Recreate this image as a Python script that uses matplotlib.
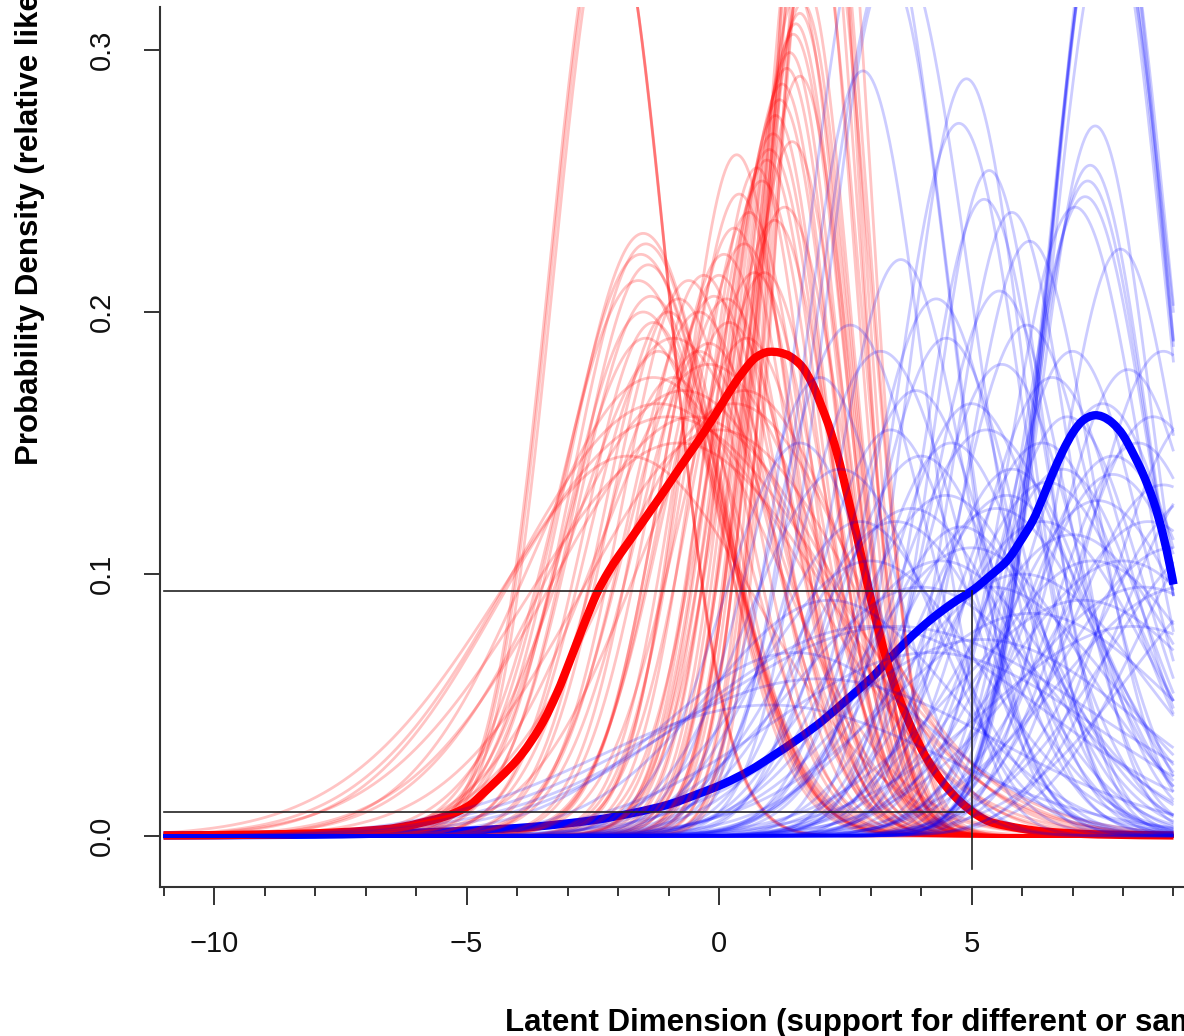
import numpy as np
import matplotlib.pyplot as plt
from matplotlib.path import Path
from matplotlib.patches import PathPatch

plt.rcParams.update({'font.family': 'Liberation Sans', 'font.size': 21})

# posterior density draws, group 1 (centre, peak height, spread)
red_mu = [-2.20, -2.15, -2.18,
          -1.50, -1.45, -1.55, -1.40, -1.60, -1.35, -1.50, -1.30, -1.45, -1.20,
          -0.80, -0.60, -0.40, -0.30, -0.10, 0.00, 0.10, 0.20, 0.30, 0.40, 0.50, 0.60, 0.70, -0.20,
          0.85, 0.95, 1.00, 1.07, 1.12, 1.20, 1.25, 1.34, 1.40, 1.47, 1.52, 1.60, 1.65, 1.55, 1.70,
          1.75, 1.85, 1.95, 2.05, 1.90, 2.10, 1.80, 2.00,
          -1.00, -0.80, -1.20, -0.50, -0.70, 0.00, -1.30, 0.30, -0.20, 0.50, -0.90, -1.80,
          -0.90, -0.40, 0.15, 0.55, 0.90, 1.10, 1.30, 0.75, 1.45, 0.35, -1.00, 1.60]
red_peak = [0.360, 0.355, 0.358,
            0.230, 0.226, 0.222, 0.218, 0.212, 0.206, 0.200, 0.196, 0.190, 0.185,
            0.205, 0.212, 0.200, 0.214, 0.206, 0.214, 0.222, 0.196, 0.232, 0.245, 0.226, 0.238, 0.215, 0.188,
            0.250, 0.258, 0.262, 0.268, 0.275, 0.281, 0.287, 0.293, 0.299, 0.306, 0.310, 0.314, 0.318, 0.322, 0.326,
            0.380, 0.400, 0.420, 0.390, 0.450, 0.440, 0.360, 0.370,
            0.160, 0.150, 0.165, 0.160, 0.170, 0.155, 0.175, 0.165, 0.180, 0.170, 0.190, 0.145,
            0.175, 0.185, 0.205, 0.190, 0.215, 0.235, 0.240, 0.255, 0.265, 0.260, 0.200, 0.290]
red_sd = [1.15, 1.12, 1.14,
          1.50, 1.45, 1.55, 1.40, 1.60, 1.45, 1.50, 1.35, 1.60, 1.40,
          1.35, 1.30, 1.40, 1.25, 1.30, 1.20, 1.25, 1.35, 1.15, 1.10, 1.20, 1.10, 1.25, 1.45,
          1.10, 1.05, 1.10, 1.05, 1.00, 1.05, 1.00, 1.00, 0.98, 1.00, 0.95, 0.97, 0.95, 0.93, 0.92,
          0.90, 0.88, 0.85, 0.90, 0.80, 0.85, 0.95, 0.95,
          3.20, 3.00, 2.90, 2.80, 2.60, 2.70, 2.40, 2.40, 2.20, 2.10, 2.00, 2.60,
          1.50, 1.45, 1.30, 1.40, 1.20, 1.15, 1.20, 1.00, 1.05, 1.05, 1.30, 1.00]

# posterior density draws, group 2
blue_mu = [7.65, 7.70, 7.75, 7.70, 7.68, 7.72, 3.10, 3.50, 3.35,
           2.85, 4.90, 4.75, 7.45, 7.35, 7.30, 7.25, 7.05, 5.35, 5.25, 5.80, 6.15, 3.60, 7.95, 5.55, 4.30,
           2.00, 2.60, 3.20, 3.90, 4.50, 5.00, 5.60, 6.10, 6.60, 7.00, 7.60, 8.10, 8.60, 6.40, 4.00, 1.60,
           2.40, 7.80, 5.30, 8.80,
           3.0, 3.5, 4.0, 4.5, 5.0, 5.5, 6.0, 6.5, 7.0, 7.5, 8.0, 8.5, 9.0, 9.5, 10.0, 6.2, 7.2, 8.2,
           5.2, 4.2, 3.0, 9.2, 10.5, 6.8, 7.8, 8.8, 5.8, 4.8, 2.2, 1.5,
           2.0, 3.5, 1.0,
           3.8, 4.4, 5.4, 6.4, 7.4, 8.4, 9.8, 10.2, 2.8, 6.9, 8.3, 5.7, 4.6, 3.4, 9.4]
blue_peak = [0.360, 0.370, 0.350, 0.380, 0.365, 0.372, 0.360, 0.340, 0.330,
             0.292, 0.289, 0.272, 0.271, 0.256, 0.250, 0.244, 0.240, 0.254, 0.243, 0.238, 0.227, 0.220,
             0.224, 0.208, 0.205,
             0.175, 0.195, 0.185, 0.170, 0.190, 0.165, 0.180, 0.195, 0.175, 0.185, 0.165, 0.178, 0.160,
             0.150, 0.145, 0.150, 0.140, 0.145, 0.155, 0.185,
             0.105, 0.120, 0.095, 0.130, 0.110, 0.125, 0.100, 0.135, 0.115, 0.128, 0.105, 0.120, 0.110,
             0.130, 0.115, 0.085, 0.090, 0.080, 0.075, 0.070, 0.080, 0.095, 0.100, 0.140, 0.138, 0.134,
             0.140, 0.118, 0.090, 0.070,
             0.060, 0.080, 0.050,
             0.125, 0.105, 0.095, 0.120, 0.105, 0.095, 0.140, 0.125, 0.120, 0.160, 0.150, 0.130, 0.150,
             0.155, 0.160]
blue_sd = [1.15, 1.12, 1.18, 1.10, 1.14, 1.16, 1.40, 1.50, 1.25,
           1.20, 1.15, 1.25, 1.10, 1.15, 1.20, 1.25, 1.30, 1.10, 1.20, 1.15, 1.25, 1.30, 1.20, 1.35, 1.40,
           1.40, 1.50, 1.60, 1.50, 1.45, 1.60, 1.50, 1.40, 1.50, 1.40, 1.55, 1.45, 1.60, 1.70, 1.70, 1.50,
           1.80, 1.70, 1.80, 1.50,
           2.2, 2.0, 2.5, 1.9, 2.2, 2.0, 2.4, 1.8, 2.1, 1.9, 2.3, 2.0, 2.2, 2.0, 2.3, 2.8, 2.6, 2.9,
           3.0, 3.2, 3.4, 2.5, 2.4, 1.6, 1.7, 1.8, 1.6, 1.7, 2.4, 2.6,
           3.5, 3.8, 3.4,
           2.0, 2.2, 2.4, 2.0, 2.2, 2.5, 1.8, 1.9, 1.8, 1.5, 1.6, 1.8, 1.6, 1.5, 1.6]

# pooled densities
red_mean_x = [-11.0, -10.0, -9.0, -8.0, -7.0, -6.3, -5.5, -5.0, -4.67, -4.0, -3.54, -3.21, -2.95,
              -2.69, -2.42, -2.2, -2.0, -1.76, -1.4, -1.11, -0.78, -0.44, -0.1, 0.22, 0.45, 0.67,
              0.85, 1.0, 1.2, 1.41, 1.65, 1.86, 2.05, 2.2, 2.38, 2.53, 2.7, 2.85, 3.05, 3.32, 3.58,
              3.84, 4.1, 4.37, 4.65, 4.9, 5.15, 5.43, 6.0, 6.5, 7.5, 9.0]
red_mean_y = [0.0002, 0.0003, 0.0006, 0.0010, 0.0020, 0.0034, 0.0070, 0.0110, 0.0163, 0.0290,
              0.0417, 0.0545, 0.0670, 0.0800, 0.0926, 0.1005, 0.1065, 0.1130, 0.1230, 0.1310,
              0.1405, 0.1500, 0.1600, 0.1700, 0.1765, 0.1817, 0.1840, 0.1848, 0.1845, 0.1830,
              0.1790, 0.1720, 0.1630, 0.1550, 0.1430, 0.1310, 0.1170, 0.1040, 0.0870, 0.0670,
              0.0520, 0.0400, 0.0300, 0.0220, 0.0155, 0.0110, 0.0075, 0.0050, 0.0028, 0.0016,
              0.0006, 0.0002]
blue_mean_x = [-11.0, -8.0, -6.3, -5.0, -3.68, -2.5, -1.7, -1.0, -0.38, 0.1, 0.61, 1.1, 1.6, 2.05,
               2.53, 3.0, 3.32, 3.75, 4.18, 4.6, 5.03, 5.35, 5.7, 5.95, 6.22, 6.42, 6.61, 6.81, 7.01,
               7.2, 7.41, 7.6, 7.8, 8.0, 8.2, 8.4, 8.6, 8.78, 8.93, 9.0]
blue_mean_y = [0.0002, 0.0005, 0.0011, 0.0020, 0.0035, 0.0060, 0.0088, 0.0120, 0.0163, 0.0200,
               0.0250, 0.0310, 0.0375, 0.0440, 0.0520, 0.0600, 0.0665, 0.0750, 0.0824, 0.0885,
               0.0939, 0.0990, 0.1050, 0.1120, 0.1206, 0.1295, 0.1385, 0.1470, 0.1540, 0.1585,
               0.1605, 0.1600, 0.1575, 0.1530, 0.1460, 0.1380, 0.1280, 0.1160, 0.1030, 0.0960]

# reference readings at x = 5
cut_x = 5.0
cut_blue = 0.0935
cut_red = 0.0092


def bump(x, mu, peak, sd):
    return peak * np.exp(-0.5 * ((x - mu) / sd) ** 2)


def smooth_path(xv, yv):
    # Catmull-Rom through the points, as cubic Bezier segments
    p = np.column_stack([xv, yv])
    verts = [p[0]]
    codes = [Path.MOVETO]
    for i in range(len(p) - 1):
        p0 = p[i - 1] if i > 0 else p[i]
        p3 = p[i + 2] if i + 2 < len(p) else p[i + 1]
        verts += [p[i] + (p[i + 1] - p0) / 6, p[i + 1] - (p3 - p[i]) / 6, p[i + 1]]
        codes += [Path.CURVE4] * 3
    return Path(verts, codes)


fig = plt.figure(figsize=(11.84, 10.36), dpi=100)
ax = fig.add_axes([160 / 1184, 149 / 1036, 1024 / 1184, 880 / 1036])

xs = np.linspace(-11.0, 9.0, 1001)
for mu, pk, sd in zip(red_mu, red_peak, red_sd):
    ax.plot(xs, bump(xs, mu, pk, sd), color=(1, 0, 0, 0.23), lw=2.0, solid_capstyle='butt')
for mu, pk, sd in zip(blue_mu, blue_peak, blue_sd):
    ax.plot(xs, bump(xs, mu, pk, sd), color=(0, 0, 1, 0.2), lw=2.0, solid_capstyle='butt')

ax.add_patch(PathPatch(smooth_path(blue_mean_x, blue_mean_y), fill=False, edgecolor='#0000ff',
                       lw=6, capstyle='butt'))
ax.add_patch(PathPatch(smooth_path(red_mean_x, red_mean_y), fill=False, edgecolor='#ff0000',
                       lw=6, capstyle='butt'))

ax.plot([-11.0, 4.85], [cut_blue, cut_blue], color='#222222', lw=1.2)
ax.plot([-11.0, 4.85], [cut_red, cut_red], color='#222222', lw=1.2)
ax.plot([cut_x, cut_x], [-0.0125, cut_blue], color='#222222', lw=1.2, clip_on=False)

ax.set_xlim(-11.07, 9.208)
ax.set_ylim(-0.01947, 0.3164)

ax.set_xticks([-10, -5, 0, 5])
ax.set_xticks(range(-11, 10), minor=True)
ax.set_yticks([0.0, 0.1, 0.2, 0.3])
ax.set_yticklabels(['0.0', '0.1', '0.2', '0.3'], rotation=90, va='center')
ax.tick_params(axis='x', which='major', length=13, width=1.4, pad=18, colors='#333333',
               labelcolor='#111111')
ax.tick_params(axis='x', which='minor', length=6.5, width=1.4, colors='#333333')
ax.tick_params(axis='y', length=11.5, width=1.4, pad=20, colors='#333333', labelcolor='#111111')

for side in ['top', 'right']:
    ax.spines[side].set_visible(False)
for side in ['left', 'bottom']:
    ax.spines[side].set_linewidth(1.5)
    ax.spines[side].set_color('#333333')

fig.text(505 / 1184, 5 / 1036, 'Latent Dimension (support for different or same-sex marriage)',
         fontsize=22.5, fontweight='bold', ha='left', va='baseline')
fig.text(30 / 1184, (1036 - 465) / 1036, 'Probability Density (relative likelihood)',
         fontsize=22.5, fontweight='bold', rotation=90, ha='center', va='bottom')

fig.savefig('out.png', dpi=100)
